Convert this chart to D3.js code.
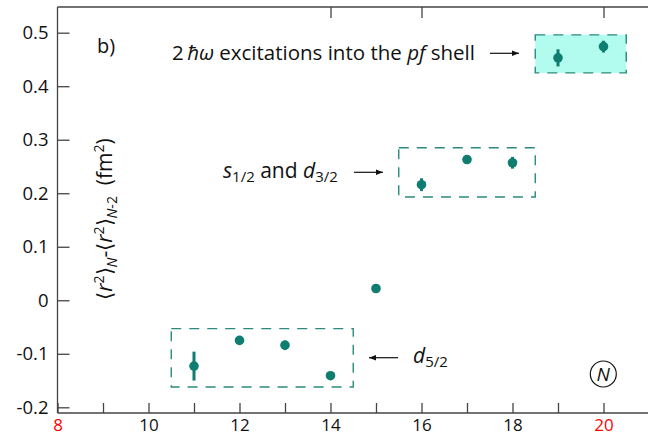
<!DOCTYPE html>
<html><head><meta charset="utf-8">
<script src="https://cdn.jsdelivr.net/npm/d3@7"></script>
<style>
body{margin:0;background:#fff;}
svg{display:block;font-family:"Open Sans",sans-serif;}
</style></head>
<body>
<svg id="c" width="648" height="436"></svg>
<script>
const N = [11,12,13,14,15,16,17,18,19,20];
const dr2 = [-0.123,-0.075,-0.084,-0.141,0.022,0.216,0.263,0.257,0.453,0.474];
const dr2Err = [0.027,0.006,0.009,0.005,0.006,0.012,0.008,0.011,0.016,0.011];
const xTicks = [8,9,10,11,12,13,14,15,16,17,18,19,20];
const xLabels = [8,10,12,14,16,18,20];
const redLabels = [8,20];
const topTicks = [14,16,20];
const yTicks = [-0.2,-0.1,0,0.1,0.2,0.3,0.4,0.5];
const yLabels = ["-0.2","-0.1","0","0.1","0.2","0.3","0.4","0.5"];
const boxes = [
  {x0:10.5,x1:14.5,y0:-0.162,y1:-0.053,fill:"none"},
  {x0:15.5,x1:18.5,y0:0.193,y1:0.285,fill:"none"},
  {x0:18.5,x1:20.5,y0:0.425,y1:0.496,fill:"#b1fcee"}
];

const teal = "#0f7d6f";
const svg = d3.select("#c");
const x = d3.scaleLinear().domain([8,21]).range([57.5,649]);
const y = d3.scaleLinear().domain([-0.2,0.5]).range([407.3,32.7]);
const frameTop = 7, frameBottom = 413, frameLeft = 57.5;

// boxes
svg.selectAll("rect.box").data(boxes).join("rect").attr("class","box")
  .attr("x",d=>x(d.x0)).attr("y",d=>y(d.y1))
  .attr("width",d=>x(d.x1)-x(d.x0)).attr("height",d=>y(d.y0)-y(d.y1))
  .attr("fill",d=>d.fill).attr("stroke","#2b8a7d").attr("stroke-width",1.4)
  .attr("stroke-dasharray","10,8");

// frame
const ax = svg.append("g").attr("stroke","#444").attr("stroke-width",1.3).attr("fill","none");
ax.append("line").attr("x1",frameLeft).attr("x2",648).attr("y1",frameBottom).attr("y2",frameBottom);
ax.append("line").attr("x1",frameLeft).attr("x2",648).attr("y1",frameTop).attr("y2",frameTop);
ax.append("line").attr("x1",frameLeft).attr("x2",frameLeft).attr("y1",frameTop).attr("y2",frameBottom);

// x axis via d3
const xAxis = d3.axisBottom(x).tickValues(xTicks).tickSizeInner(-10).tickSizeOuter(0)
  .tickFormat(d=>xLabels.includes(d)?d:"").tickPadding(6);
const gx = svg.append("g").attr("transform",`translate(0,${frameBottom})`).call(xAxis);
gx.select(".domain").remove();
gx.selectAll(".tick line").attr("stroke","#444").attr("stroke-width",1.3);
gx.selectAll(".tick text").attr("font-size",17).attr("font-family","Open Sans")
  .attr("fill",d=>redLabels.includes(d)?"#ff0000":"#111");

// top ticks
const xTop = d3.axisTop(x).tickValues(topTicks).tickSizeInner(-11).tickSizeOuter(0).tickFormat("");
const gt = svg.append("g").attr("transform",`translate(0,${frameTop})`).call(xTop);
gt.select(".domain").remove();
gt.selectAll(".tick line").attr("stroke","#444").attr("stroke-width",1.3);

// y axis
const yAxis = d3.axisLeft(y).tickValues(yTicks).tickSizeInner(-12).tickSizeOuter(0)
  .tickFormat((d,i)=>yLabels[i]).tickPadding(9);
const gy = svg.append("g").attr("transform",`translate(${frameLeft},0)`).call(yAxis);
gy.select(".domain").remove();
gy.selectAll(".tick line").attr("stroke","#444").attr("stroke-width",1.3);
gy.selectAll(".tick text").attr("font-size",18.5).attr("font-family","Open Sans").attr("fill","#111");

// error bars
const pts = N.map((n,i)=>({n,v:dr2[i],e:dr2Err[i]}));
svg.selectAll("line.err").data(pts).join("line").attr("class","err")
  .attr("x1",d=>x(d.n)).attr("x2",d=>x(d.n))
  .attr("y1",d=>y(d.v-d.e)).attr("y2",d=>y(d.v+d.e))
  .attr("stroke",teal).attr("stroke-width",3);
svg.selectAll("circle.pt").data(pts).join("circle").attr("class","pt")
  .attr("cx",d=>x(d.n)).attr("cy",d=>y(d.v)).attr("r",4.8).attr("fill",teal);

// arrow marker
const defs = svg.append("defs");
defs.append("marker").attr("id","ah").attr("viewBox","0 0 10 10").attr("refX",10).attr("refY",5)
  .attr("markerWidth",7).attr("markerHeight",7).attr("markerUnits","userSpaceOnUse").attr("orient","auto")
  .append("path").attr("d","M0,1 L10,5 L0,9 Z").attr("fill","#111");
function arrow(x1,y1,x2,y2){
  svg.append("line").attr("x1",x1).attr("y1",y1).attr("x2",x2).attr("y2",y2)
    .attr("stroke","#111").attr("stroke-width",1.2).attr("marker-end","url(#ah)");
}

// b)
svg.append("text").attr("x",97).attr("y",53).attr("font-size",20).attr("fill","#111").text("b)");

// annotation 1
const t1 = svg.append("text").attr("x",172).attr("y",60).attr("font-size",20.5).attr("fill","#111");
t1.append("tspan").text("2\u2009");
t1.append("tspan").attr("font-style","italic").text("ħω");
t1.append("tspan").text(" excitations into the ");
t1.append("tspan").attr("font-style","italic").text("pf");
t1.append("tspan").text(" shell");
arrow(490,53.3,519,53.3);

// annotation 2
const t2 = svg.append("text").attr("x",223).attr("y",178).attr("font-size",21).attr("fill","#111");
t2.append("tspan").attr("font-style","italic").text("s");
t2.append("tspan").attr("font-size",15).attr("dy",4).text("1/2");
t2.append("tspan").attr("dy",-4).text(" and ");
t2.append("tspan").attr("font-style","italic").text("d");
t2.append("tspan").attr("font-size",15).attr("dy",4).text("3/2");
arrow(354,172.3,383,172.3);

// annotation 3
const t3 = svg.append("text").attr("x",413).attr("y",363).attr("font-size",21).attr("fill","#111");
t3.append("tspan").attr("font-style","italic").text("d");
t3.append("tspan").attr("font-size",15).attr("dy",4).text("5/2");
arrow(398,357.7,369,357.7);

// circled N
svg.append("circle").attr("cx",603.3).attr("cy",374).attr("r",13).attr("fill","none").attr("stroke","#111").attr("stroke-width",1.2);
svg.append("text").attr("x",603.3).attr("y",381).attr("text-anchor","middle").attr("font-size",19)
  .attr("font-style","italic").attr("fill","#111").text("N");

// y label
const yl = svg.append("text").attr("transform","translate(112,219) rotate(-90)")
  .attr("text-anchor","middle").attr("font-size",21).attr("fill","#111");
yl.append("tspan").text("⟨");
yl.append("tspan").attr("font-style","italic").text("r");
yl.append("tspan").attr("font-size",14).attr("dy",-8).text("2");
yl.append("tspan").attr("dy",8).text("⟩");
yl.append("tspan").attr("font-size",14).attr("font-style","italic").attr("dy",5).text("N");
yl.append("tspan").attr("dy",-5).text("-⟨");
yl.append("tspan").attr("font-style","italic").text("r");
yl.append("tspan").attr("font-size",14).attr("dy",-8).text("2");
yl.append("tspan").attr("dy",8).text("⟩");
yl.append("tspan").attr("font-size",14).attr("font-style","italic").attr("dy",5).text("N");
yl.append("tspan").attr("font-size",14).text("-2");
yl.append("tspan").attr("dy",-5).text("\u00a0\u00a0(fm");
yl.append("tspan").attr("font-size",14).attr("dy",-8).text("2");
yl.append("tspan").attr("dy",8).text(")");
</script>
</body></html>
